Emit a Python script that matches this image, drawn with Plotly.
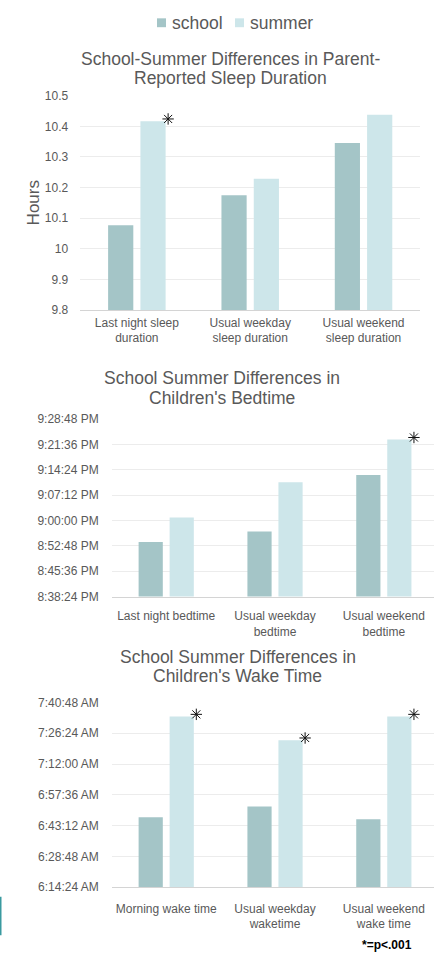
import pandas as pd
import plotly.graph_objects as go

# ---- data -------------------------------------------------------------
sleep_categories = ["Last night sleep<br>duration", "Usual weekday<br>sleep duration",
                    "Usual weekend<br>sleep duration"]
sleep_school = [10.077, 10.175, 10.346]
sleep_summer = [10.417, 10.229, 10.438]
sleep_significant = [True, False, False]
sleep_tickvals = [9.8, 9.9, 10.0, 10.1, 10.2, 10.3, 10.4, 10.5]
sleep_ticktext = ["9.8", "9.9", "10", "10.1", "10.2", "10.3", "10.4", "10.5"]

bed_categories = ["Last night bedtime", "Usual weekday<br>bedtime", "Usual weekend<br>bedtime"]
bed_school = ["20:53:53", "20:56:53", "21:12:55"]
bed_summer = ["21:00:53", "21:10:53", "21:23:00"]
bed_significant = [False, False, True]
bed_tickvals = ["20:38:24", "20:45:36", "20:52:48", "21:00:00", "21:07:12",
                "21:14:24", "21:21:36", "21:28:48"]
bed_ticktext = ["8:38:24 PM", "8:45:36 PM", "8:52:48 PM", "9:00:00 PM", "9:07:12 PM",
                "9:14:24 PM", "9:21:36 PM", "9:28:48 PM"]

wake_categories = ["Morning wake time", "Usual weekday<br>waketime", "Usual weekend<br>wake time"]
wake_school = ["06:47:06", "06:52:10", "06:46:11"]
wake_summer = ["07:34:13", "07:23:10", "07:34:13"]
wake_significant = [True, True, True]
wake_tickvals = ["06:14:24", "06:28:48", "06:43:12", "06:57:36", "07:12:00",
                 "07:26:24", "07:40:48"]
wake_ticktext = ["6:14:24 AM", "6:28:48 AM", "6:43:12 AM", "6:57:36 AM", "7:12:00 AM",
                 "7:26:24 AM", "7:40:48 AM"]

series_names = ["school", "summer"]
titles = [
    ["School-Summer Differences in Parent-", "Reported Sleep Duration"],
    ["School Summer Differences in", "Children's Bedtime"],
    ["School Summer Differences in", "Children's Wake Time"],
]
footnote = "*=p<.001"

# ---- styling ----------------------------------------------------------
W, H = 434, 959
FONT = "Liberation Sans, Arial, sans-serif"
TEXT = "#595959"
GRID = "#ececec"
AXIS = "#d4d4d4"
COLORS = {"school": "#a4c5c7", "summer": "#cde6ea"}
BARGAP, GROUPGAP = 0.43, 0.22


def fx(p):
    return p / W


def fy(p):
    return 1 - p / H


def as_time(t):
    return pd.Timestamp("1970-01-01 " + t)


# panel geometry in pixels: (left, right, top, bottom), x range, label offsets
panels = [
    dict(l=80.2, r=420.2, t=90.0, b=307.7, xr=[-0.5, 2.5], xs=1, ys=11),
    dict(l=111.8, r=434.0, t=418.3, b=598.3, xr=[-0.5, 2.461], xs=8, ys=12),
    dict(l=111.8, r=434.0, t=705.7, b=893.3, xr=[-0.5, 2.461], xs=10, ys=12),
]

fig = go.Figure()
xs = [0, 1, 2]

datasets = [
    (sleep_categories, sleep_school, sleep_summer, sleep_significant,
     sleep_tickvals, sleep_ticktext, False),
    (bed_categories, [as_time(v) for v in bed_school], [as_time(v) for v in bed_summer],
     bed_significant, [as_time(v) for v in bed_tickvals], bed_ticktext, True),
    (wake_categories, [as_time(v) for v in wake_school], [as_time(v) for v in wake_summer],
     wake_significant, [as_time(v) for v in wake_tickvals], wake_ticktext, True),
]

annotations = []
for k, (cats, school, summer, sig, tv, tt, is_time) in enumerate(datasets):
    n = "" if k == 0 else str(k + 1)
    xa, ya = "x" + n, "y" + n
    for name, vals in zip(series_names, [school, summer]):
        fig.add_trace(go.Bar(
            x=xs, y=vals, name=name, marker_color=COLORS[name],
            marker_line_width=0, xaxis=xa, yaxis=ya, showlegend=False,
            hoverinfo="skip",
        ))

    p = panels[k]
    cat_px = (p["r"] - p["l"]) / (p["xr"][1] - p["xr"][0])
    plot_h = p["b"] - p["t"]
    slot = (1 - BARGAP) / 2
    right_edge = slot / 2 + slot * (1 - GROUPGAP) / 2
    span = tv[-1] - tv[0]
    # significance markers just off the top-right corner of the summer bars
    sx, sy = [], []
    for i, (flag, v) in enumerate(zip(sig, summer)):
        if flag:
            sx.append(i + right_edge + 2.5 / cat_px)
            sy.append(v + span * (2.2 / plot_h))
    fig.add_trace(go.Scatter(
        x=sx, y=sy, mode="markers", xaxis=xa, yaxis=ya, showlegend=False,
        hoverinfo="skip", cliponaxis=False,
        marker=dict(symbol="asterisk-open", size=9.5, color="#111111",
                    line=dict(color="#111111", width=1.0)),
    ))

    fig.update_layout(**{
        "xaxis" + n: dict(
            domain=[fx(p["l"]), fx(p["r"])], range=p["xr"], anchor=ya,
            tickvals=xs, ticktext=cats, showgrid=False, zeroline=False,
            showline=True, linecolor=AXIS, linewidth=1, ticks="",
            ticklabelstandoff=p["xs"],
            tickfont=dict(family=FONT, size=12, color=TEXT), fixedrange=True,
        ),
        "yaxis" + n: dict(
            domain=[fy(p["b"]), fy(p["t"])], range=[tv[0], tv[-1]], anchor=xa,
            tickvals=tv, ticktext=tt, showgrid=True, gridcolor=GRID, gridwidth=1,
            zeroline=False, showline=False, ticks="", ticklabelstandoff=p["ys"],
            tickfont=dict(family=FONT, size=12, color=TEXT), fixedrange=True,
            type="date" if is_time else "linear",
        ),
    })

# chart titles
title_pos = [(230, 53, 72), (221.7, 377, 396.5), (237.5, 660, 679)]
for (cx, y1, y2), lines in zip(title_pos, titles):
    for yy, line in zip((y1, y2), lines):
        annotations.append(dict(
            text=line, xref="paper", yref="paper", x=fx(cx), y=fy(yy),
            xanchor="center", yanchor="middle", showarrow=False,
            font=dict(family=FONT, size=17.5, color=TEXT),
        ))

# y-axis title of the first panel
annotations.append(dict(
    text="Hours", xref="paper", yref="paper", x=fx(33.3), y=fy(199),
    xanchor="center", yanchor="middle", showarrow=False, textangle=-90,
    font=dict(family=FONT, size=17, color=TEXT),
))

# legend
shapes = []
legend_items = [("school", 157, 170), ("summer", 235, 248)]
for name, sx0, tx in legend_items:
    shapes.append(dict(type="rect", xref="paper", yref="paper",
                       x0=fx(sx0), x1=fx(sx0 + 9), y0=fy(20.5), y1=fy(11.5),
                       fillcolor=COLORS[name], line=dict(width=0)))
    annotations.append(dict(
        text=name, xref="paper", yref="paper", x=fx(tx), y=fy(16),
        xanchor="left", yanchor="middle", showarrow=False,
        font=dict(family=FONT, size=17.5, color=TEXT),
    ))

# footnote
annotations.append(dict(
    text="<b>" + footnote + "</b>", xref="paper", yref="paper", x=fx(386.7), y=fy(951.5),
    xanchor="center", yanchor="middle", showarrow=False,
    font=dict(family=FONT, size=12, color="black"),
))

# thin accent rule at the lower left edge
shapes.append(dict(type="rect", xref="paper", yref="paper",
                   x0=0, x1=fx(1.5), y0=fy(942), y1=fy(903),
                   fillcolor="#3a9aa0", line=dict(width=0)))

fig.update_layout(
    width=W, height=H, margin=dict(l=0, r=0, t=0, b=0),
    paper_bgcolor="white", plot_bgcolor="white",
    barmode="group", bargap=BARGAP, bargroupgap=GROUPGAP,
    annotations=annotations, shapes=shapes, showlegend=False,
    font=dict(family=FONT, color=TEXT),
)

fig.write_html("out.html", config={"displayModeBar": False})
